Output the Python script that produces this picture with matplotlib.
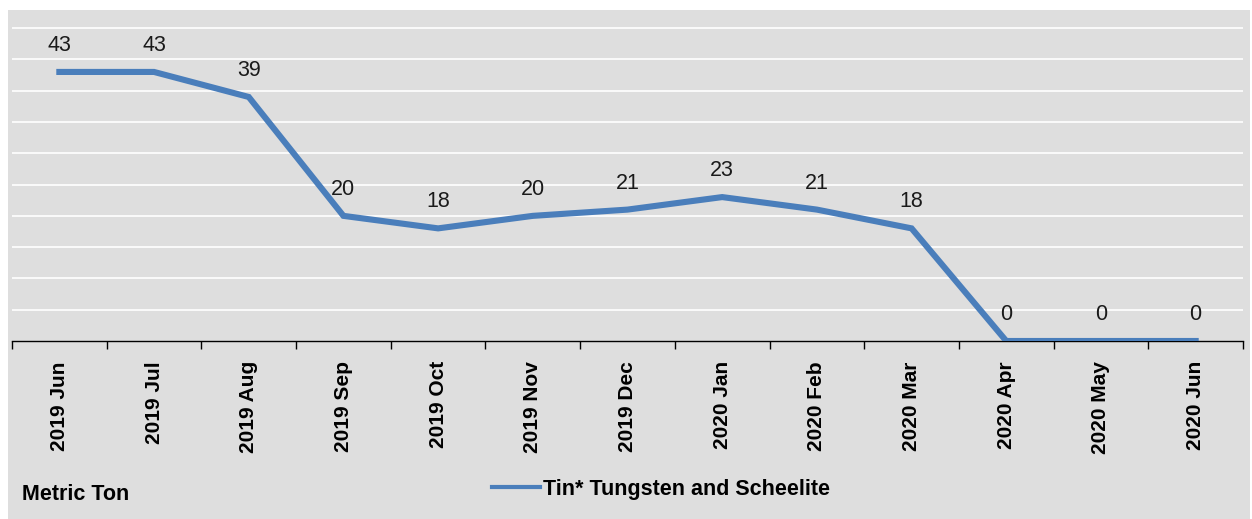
# coding:utf-8
# Tin* Tungsten and Scheelite 月度产量折线图

import matplotlib.pyplot as plt
from matplotlib.patches import Rectangle

# 数据
months = ["2019 Jun", "2019 Jul", "2019 Aug", "2019 Sep", "2019 Oct", "2019 Nov",
          "2019 Dec", "2020 Jan", "2020 Feb", "2020 Mar", "2020 Apr", "2020 May",
          "2020 Jun"]
values = [43, 43, 39, 20, 18, 20, 21, 23, 21, 18, 0, 0, 0]
series_name = "Tin* Tungsten and Scheelite"
unit_label = "Metric Ton"

W, H = 1252, 519
bg = "#dedede"
blue = "#4a7ebb"

plt.rcParams["font.family"] = ["Liberation Sans", "DejaVu Sans"]

fig = plt.figure(figsize=(W / 100, H / 100), dpi=100)
fig.patch.set_facecolor("white")
# 灰色图表区
fig.patches.append(Rectangle((8 / W, 0), (1250 - 8) / W, (H - 10) / H,
                             transform=fig.transFigure, facecolor=bg,
                             edgecolor="none", zorder=-10))

# 坐标区: x 从 12 到 1243 像素, y=0 在 341 像素
ax = fig.add_axes([12 / W, (H - 341) / H, (1243 - 12) / W, (341 - 10) / H])
ax.set_facecolor("none")
x = list(range(len(months)))
ax.plot(x, values, color=blue, linewidth=4.4, solid_joinstyle="miter",
        label=series_name, zorder=3)
ax.set_xlim(-0.5, len(months) - 0.5)
ax.set_ylim(0, 52.9)

# 白色网格线
for g in range(5, 55, 5):
    ax.axhline(g, color="white", linewidth=1.2, zorder=1)

# 数据标签
for xi, v in zip(x, values):
    ax.annotate(str(v), (xi, v), xytext=(0, 19), textcoords="offset points",
                ha="center", va="center", fontsize=15.5, color="#1a1a1a")

for s in ["top", "right", "left"]:
    ax.spines[s].set_visible(False)
ax.spines["bottom"].set_color("black")
ax.spines["bottom"].set_linewidth(1.0)
ax.set_yticks([])
ax.set_xticks(x)
ax.set_xticklabels(months, rotation=90, fontsize=15, fontweight="bold",
                   va="top", ha="center")
ax.tick_params(axis="x", which="major", length=0, pad=14.5)
ax.set_xticks([i - 0.5 for i in range(len(months) + 1)], minor=True)
ax.tick_params(axis="x", which="minor", length=6, width=1.0, color="black")

leg = ax.legend(loc="center", bbox_to_anchor=(661 / W, (H - 489) / H),
                bbox_transform=fig.transFigure, frameon=False,
                prop={"size": 15.5, "weight": "bold"}, handlelength=2.2,
                handletextpad=0.15)
for h in leg.get_lines():
    h.set_linewidth(3.0)
fig.text(22 / W, (H - 495) / H, unit_label, fontsize=15.5, fontweight="bold",
         ha="left", va="center")

plt.savefig("out.png", dpi=100, facecolor=fig.get_facecolor())
plt.close()
